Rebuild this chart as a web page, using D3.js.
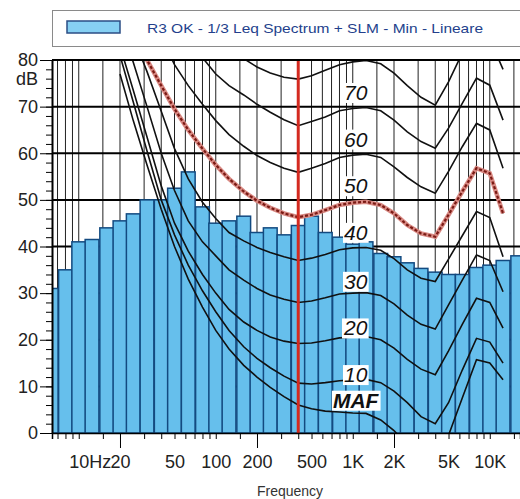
<!DOCTYPE html>
<html>
<head>
<meta charset="utf-8">
<script src="https://cdn.jsdelivr.net/npm/d3@7"></script>
<style>
  body { margin: 0; background: #fff; }
  svg { display: block; font-family: "Liberation Sans", Arial, sans-serif; }
</style>
</head>
<body>
<svg id="chart"></svg>
<script>
// 1/3 octave Leq spectrum (dB)
const bandFreqs = [6.3, 8, 10, 12.5, 16, 20, 25, 31.5, 40, 50, 63, 80, 100, 125, 160, 200, 250, 315,
  400, 500, 630, 800, 1000, 1250, 1600, 2000, 2500, 3150, 4000, 5000, 6300, 8000, 10000, 12500, 16000];
const bandLevels = [31, 35, 41, 41.5, 44, 45.5, 47, 50, 50, 52.5, 56, 48.5, 45, 45.5, 46.5, 43, 44, 42.5,
  44.5, 46.5, 43, 42, 40.5, 41, 38.5, 37.8, 36.5, 35.3, 34.5, 34, 34, 35.5, 36, 37, 38];

// equal loudness contours
const contourFreqs = [20, 25, 31.5, 40, 50, 63, 80, 100, 125, 160, 200, 250, 315, 400, 500, 630, 800,
  1000, 1250, 1600, 2000, 2500, 3150, 4000, 5000, 6300, 8000, 10000, 12500];
const phonMAF = [77, 67, 57.5, 48, 40, 33, 27, 22, 18, 14.5, 12, 9.8, 7.8, 6, 5.2, 4.7, 4.5, 4.3, 4.2, 2.8, 0.5, -2.5, -5, -5, -0.5, 7.5, 15.7, 15, 11.4];
const phon10 = [81, 71, 60.5, 50, 42.5, 36, 30.5, 26, 22, 18.5, 16, 14, 12.2, 10.7, 10.5, 10.8, 11.2, 11.4, 11.5, 10.8, 9, 6.5, 3.5, 2, 6.5, 13.5, 20.3, 19.5, 15];
const phon20 = [83, 73.5, 63.5, 53, 45, 39, 34, 30, 26.5, 23.8, 22, 20.6, 19.7, 19.2, 19.3, 19.8, 20.4, 20.6, 20.7, 20, 18.2, 15.8, 13.7, 12.5, 17.6, 23.3, 28.9, 28, 22.5];
const phon30 = [88, 79.5, 70, 60, 52, 45.5, 41, 38, 35, 32.8, 31, 29.6, 28.7, 28, 28.3, 29, 29.8, 30, 30.1, 29.5, 27.7, 25.3, 23.3, 22.3, 27.5, 32.8, 38.2, 37, 30.3];
const phon40 = [92, 85, 77.5, 69, 61, 54.5, 49.5, 46, 43, 41.2, 39.8, 38.7, 37.8, 37, 37.5, 38.3, 39.3, 39.7, 39.8, 39.2, 37.4, 35, 33.2, 32.5, 37.3, 42.3, 47.5, 46.2, 37.8];
const phon50 = [91, 85.5, 80, 74.5, 69.5, 65, 61, 57.5, 54.5, 51.8, 49.8, 48.3, 47.1, 46.3, 46.8, 47.8, 48.9, 49.4, 49.6, 48.9, 47.1, 44.6, 42.8, 42.1, 46.8, 51.8, 56.8, 55.7, 47.1];
const phon60 = [103, 97, 91, 85, 79, 74.5, 70.5, 67, 64, 61.5, 59.5, 58, 56.8, 55.9, 56.8, 57.8, 59.1, 59.6, 59.8, 59.1, 57.1, 54.8, 52.8, 51.4, 56.1, 61.4, 66.4, 65, 56.8];
const phon70 = [112, 106, 100, 95, 90, 85, 80.5, 77, 74.5, 72.5, 70.5, 68.8, 67.2, 65.9, 66.8, 67.8, 69.1, 69.6, 69.8, 69.1, 67.1, 64.6, 62.5, 61.1, 65.4, 70.7, 76.1, 74.6, 67.1];
const phon80 = [120, 115, 110, 104, 99, 94, 89.5, 86, 83, 80.3, 78.5, 77.2, 76.3, 75.9, 76.6, 77.8, 79, 79.6, 79.9, 79.2, 77.2, 74.5, 72, 70.3, 75.3, 81.5, 86, 84.5, 78];

const contourLabels = ['70', '60', '50', '40', '30', '20', '10', 'MAF'];
const contourLabelLevels = [73, 63, 53, 43, 32.5, 22.5, 12.5, 7];
const markerFreq = 400;

const xTickValues = [10, 20, 50, 100, 200, 500, 1000, 2000, 5000, 10000];
const xTickLabels = ['10Hz', '20', '50', '100', '200', '500', '1K', '2K', '5K', '10K'];
const yTickValues = [0, 10, 20, 30, 40, 50, 60, 70, 80];
const legendText = 'R3 OK - 1/3 Leq Spectrum + SLM - Min - Lineare';

class LoudnessChart {
    constructor(config) {
        this.config = {
            parentElement: config.parentElement,
            containerWidth: config.containerWidth || 520,
            containerHeight: config.containerHeight || 499,
            margin: config.margin || { top: 60, right: 0, bottom: 66, left: 52 }
        };
        this.initApp();
    }
    initApp() {
        const app = this;
        const m = app.config.margin;
        app.width = app.config.containerWidth - m.left - m.right;
        app.height = app.config.containerHeight - m.top - m.bottom;
        app.xScale = d3.scaleLog().domain([6.38, 16620]).range([0, app.width]);
        app.yScale = d3.scaleLinear().domain([0, 80]).range([app.height, 0]);
        app.svg = d3.select(app.config.parentElement)
            .attr('width', app.config.containerWidth)
            .attr('height', app.config.containerHeight);
        app.svg.append('rect').attr('width', app.config.containerWidth).attr('height', app.config.containerHeight).attr('fill', '#fff');
        app.svg.append('defs').append('clipPath').attr('id', 'plot-clip')
            .append('rect').attr('width', app.width).attr('height', app.height);
        app.chart = app.svg.append('g').attr('transform', `translate(${m.left},${m.top})`);
        app.renderApp();
    }
    renderApp() {
        const app = this;
        const x = app.xScale, y = app.yScale;

        // legend
        const legend = app.svg.append('g');
        legend.append('rect').attr('x', 52.5).attr('y', 10.5).attr('width', 490).attr('height', 36)
            .attr('fill', '#fff').attr('stroke', '#8a8a8a');
        legend.append('rect').attr('x', 67).attr('y', 21).attr('width', 53).attr('height', 12)
            .attr('fill', '#86d0f3').attr('stroke', '#2b4d85').attr('stroke-width', 1.5);
        legend.append('text').attr('x', 147).attr('y', 32.5).attr('fill', '#233f8c')
            .attr('textLength', 336).attr('lengthAdjust', 'spacingAndGlyphs')
            .style('font-size', '13.5px').text(legendText);

        const plot = app.chart.append('g').attr('clip-path', 'url(#plot-clip)');

        // grid
        const [d0, d1] = x.domain();
        const gridFreqs = [];
        for (let p = 0; p <= 4; p++) {
            [1, 1.5, 2, 3, 4, 5, 6, 7, 8, 9].forEach(k => {
                const f = k * Math.pow(10, p);
                if (f > d0 && f < d1) gridFreqs.push(f);
            });
        }
        plot.selectAll('.vgrid').data(gridFreqs).enter().append('line')
            .attr('x1', d => x(d)).attr('x2', d => x(d))
            .attr('y1', 0).attr('y2', app.height)
            .attr('stroke', '#222').attr('stroke-width', 1);
        plot.selectAll('.hgrid').data(yTickValues.slice(1)).enter().append('line')
            .attr('x1', 0).attr('x2', app.width)
            .attr('y1', d => y(d)).attr('y2', d => y(d))
            .attr('stroke', '#000').attr('stroke-width', 2);

        // spectrum bars
        const third = Math.pow(2, 1 / 6);
        plot.selectAll('.bar').data(bandFreqs).enter().append('rect')
            .attr('x', d => x(d / third))
            .attr('width', d => x(d * third) - x(d / third))
            .attr('y', (d, i) => y(bandLevels[i]))
            .attr('height', (d, i) => app.height - y(bandLevels[i]))
            .attr('fill', '#66bfec').attr('stroke', '#134a80').attr('stroke-width', 1.5);

        // contours
        const curves = [phonMAF, phon10, phon20, phon30, phon40, phon50, phon60, phon70, phon80];
        const line = d3.line().x((d, i) => x(contourFreqs[i])).y(d => y(d));
        plot.selectAll('.contour').data(curves).enter().append('path')
            .attr('d', d => line(d))
            .attr('fill', 'none').attr('stroke', '#111').attr('stroke-width', 1.6);
        plot.append('path').attr('d', line(phon50))
            .attr('fill', 'none').attr('stroke', '#d98a84').attr('stroke-width', 4.5);
        plot.append('path').attr('d', line(phon50))
            .attr('fill', 'none').attr('stroke', '#7a1a14').attr('stroke-width', 2.2)
            .attr('stroke-dasharray', '3,2');

        // contour labels
        const labelX = x(1050);
        const labels = plot.selectAll('.clabel').data(contourLabels).enter().append('g');
        labels.append('text')
            .attr('x', labelX).attr('y', (d, i) => y(contourLabelLevels[i]))
            .attr('dy', '0.35em').attr('text-anchor', 'middle')
            .style('font-size', '21px').style('font-style', 'italic').style('font-weight', d => d === 'MAF' ? 'bold' : 'normal')
            .attr('fill', '#111').text(d => d);
        labels.each(function () {
            const g = d3.select(this);
            const bb = g.select('text').node().getBBox();
            g.insert('rect', 'text').attr('x', bb.x - 1).attr('y', bb.y + 2)
                .attr('width', bb.width + 2).attr('height', bb.height - 3).attr('fill', '#fff');
        });

        // marker line
        plot.append('line').attr('x1', x(markerFreq)).attr('x2', x(markerFreq))
            .attr('y1', 0).attr('y2', app.height)
            .attr('stroke', '#d42a20').attr('stroke-width', 3);

        // top border of the plot
        app.chart.append('line').attr('x1', 0).attr('x2', app.width)
            .attr('y1', y(80)).attr('y2', y(80)).attr('stroke', '#000').attr('stroke-width', 2);

        // y axis
        const yMinor = d3.range(0, 81, 2);
        app.chart.append('g').call(d3.axisLeft(y).tickValues(yMinor).tickSize(6).tickFormat(''))
            .call(g => g.select('.domain').remove());
        const yAxisG = app.chart.append('g')
            .call(d3.axisLeft(y).tickValues(yTickValues).tickSize(12).tickPadding(2).tickSizeOuter(0));
        yAxisG.select('.domain').attr('stroke-width', 2);
        yAxisG.selectAll('text').style('font-size', '18px').attr('fill', '#222');
        app.chart.append('text').attr('x', -14).attr('y', y(80) + 25).attr('text-anchor', 'end')
            .style('font-size', '18px').attr('fill', '#222').text('dB');

        // x axis
        app.chart.append('g').attr('transform', `translate(0,${app.height})`)
            .call(d3.axisBottom(x).tickValues(gridFreqs).tickSize(6).tickFormat(''))
            .call(g => g.select('.domain').attr('stroke-width', 1.5));
        app.chart.append('g').attr('transform', `translate(0,${app.height})`)
            .call(d3.axisBottom(x).tickValues([20, 200, 2000]).tickSize(15).tickFormat(''))
            .call(g => g.select('.domain').remove());
        const xLab = app.chart.append('g').attr('transform', `translate(0,${app.height})`)
            .call(d3.axisBottom(x).tickValues(xTickValues).tickSize(0).tickPadding(22)
                .tickFormat((d, i) => xTickLabels[i]));
        xLab.select('.domain').remove();
        xLab.selectAll('text').style('font-size', '18px').attr('fill', '#222')
            .filter(d => d === 10).attr('text-anchor', 'start').attr('dx', '-0.55em');
        app.chart.append('text').attr('x', 238).attr('y', app.height + 63)
            .attr('text-anchor', 'middle').style('font-size', '14px').attr('fill', '#333').text('Frequency');
    }
}

new LoudnessChart({ parentElement: '#chart' });
</script>
</body>
</html>
